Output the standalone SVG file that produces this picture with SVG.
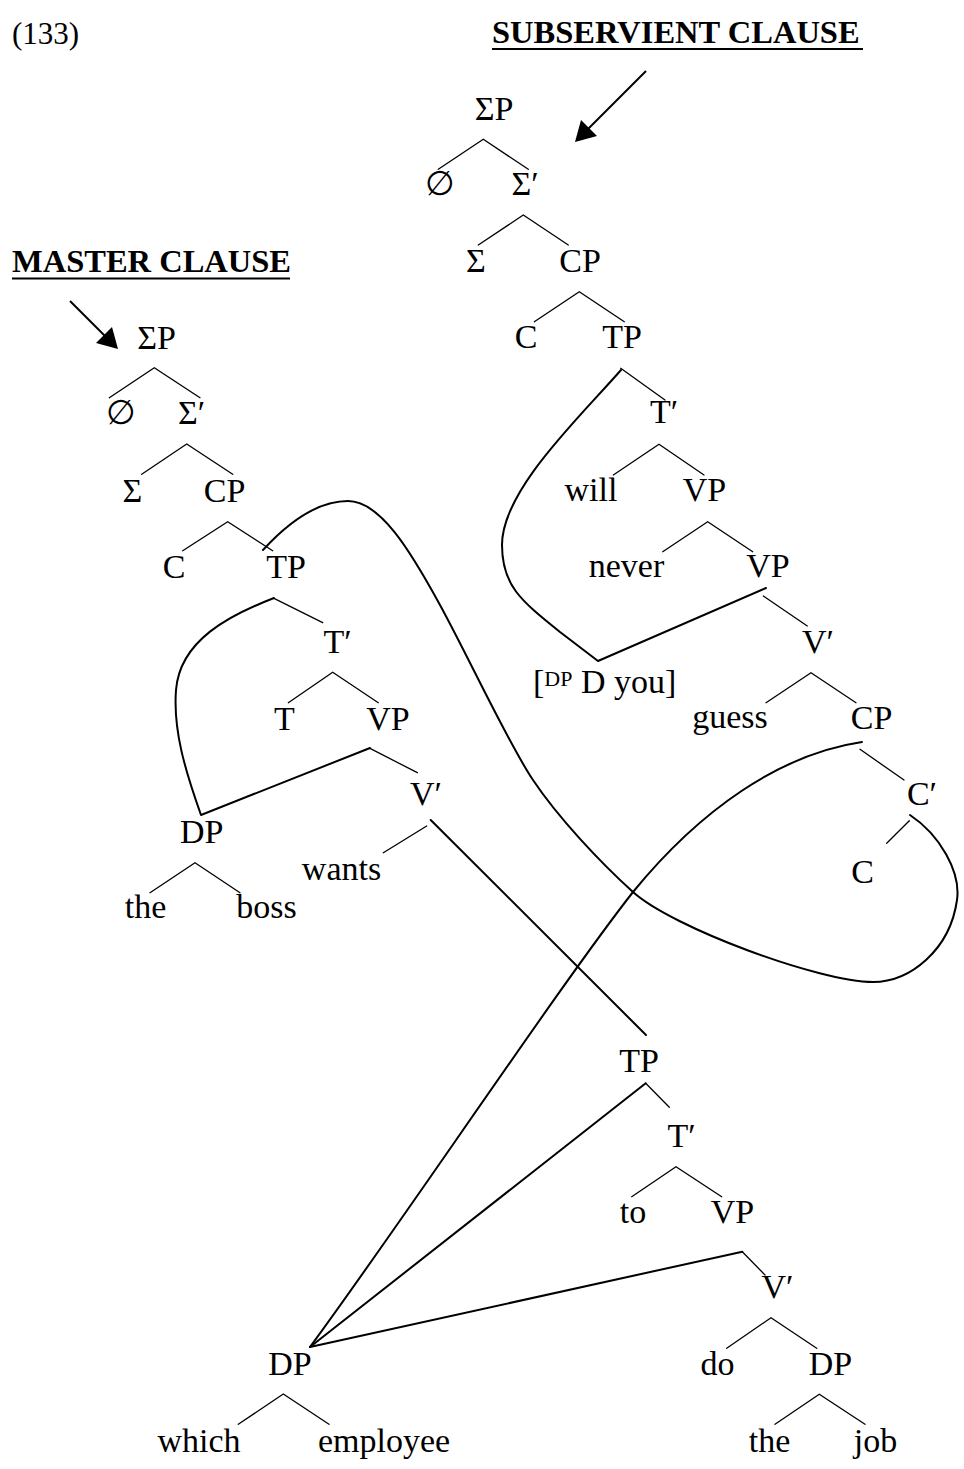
<svg xmlns="http://www.w3.org/2000/svg" width="964" height="1469" viewBox="0 0 964 1469">
<style>
text{font-family:"Liberation Serif","DejaVu Serif",serif;font-size:34px;fill:#000}
.n{text-anchor:middle}
.h{font-weight:bold;font-size:32.5px}
.t{fill:none;stroke:#000;stroke-width:1.3;stroke-linecap:round;stroke-linejoin:miter}
.k{fill:none;stroke:#000;stroke-width:2;stroke-linecap:round;stroke-linejoin:round}
.ar{stroke:#000;stroke-width:2}
</style>
<rect width="964" height="1469" fill="#fff"/>

<g id="labels">
<text id="ex" x="12" y="44" style="font-size:31px">(133)</text>
<text id="sub-title" class="h" x="492" y="43">SUBSERVIENT CLAUSE</text>
<line x1="492" y1="49" x2="863" y2="49" stroke="#000" stroke-width="2"/>
<text id="master-title" class="h" x="12" y="272">MASTER CLAUSE</text>
<line x1="12" y1="278.5" x2="290" y2="278.5" stroke="#000" stroke-width="2"/>
</g>

<g id="arrows">
<line class="ar" x1="646" y1="71" x2="588" y2="129"/>
<polygon points="575,142 581,120 597,136" fill="#000"/>
<line class="ar" x1="70" y1="301" x2="105" y2="336"/>
<polygon points="118,349 96,343 112,327" fill="#000"/>
</g>

<g id="connectors">
<!-- subservient tree -->
<polyline class="t" points="438.3,169.3 483.3,139.3 528.3,169.3"/>
<polyline class="t" points="478.3,245 523.3,215 568.3,245"/>
<polyline class="t" points="534.3,321.7 579.3,291.7 624.3,321.7"/>
<line class="t" x1="620.7" y1="368.3" x2="665" y2="400"/>
<polyline class="t" points="613.3,475 659,444.3 704,475"/>
<polyline class="t" points="662.7,551.7 707.7,521.7 752.7,551.7"/>
<line class="t" x1="763.3" y1="596" x2="807.3" y2="626"/>
<polyline class="t" points="766,702.7 811,672.7 856,702.7"/>
<line class="t" x1="860" y1="749.3" x2="904" y2="780"/>
<line class="t" x1="909.3" y1="820.7" x2="886.7" y2="843.3"/>
<!-- master tree -->
<polyline class="t" points="109.3,397.7 154.3,367.7 200,397.7"/>
<polyline class="t" points="141.7,474.3 186.7,444 232.7,474.3"/>
<polyline class="t" points="182.7,550.7 227.7,521.7 272.7,550.7"/>
<line class="t" x1="274" y1="598.3" x2="322.7" y2="622.7"/>
<polyline class="t" points="288.3,702.7 332.7,672.3 378.3,702.7"/>
<line class="t" x1="370" y1="748.3" x2="417.3" y2="772.7"/>
<line class="t" x1="426.7" y1="826" x2="383.3" y2="852.7"/>
<polyline class="t" points="150,892.7 195,862.7 240,892.7"/>
<!-- lower tree -->
<line class="t" x1="645.7" y1="1083.3" x2="669.3" y2="1107.3"/>
<polyline class="t" points="631.7,1196.7 676,1166.7 721.7,1196.7"/>
<line class="t" x1="742.3" y1="1251.7" x2="765" y2="1275"/>
<polyline class="t" points="726.7,1348.3 771,1317.7 816.7,1348.3"/>
<polyline class="t" points="775,1424.3 819.3,1394.3 865,1424.3"/>
<polyline class="t" points="238.3,1424.3 283.3,1394 329,1424.3"/>
<!-- thick movement / multidominance links -->
<path class="k" d="M621,370 C580,417 502,490 502,545 C502,585 520,600 560,632 L598,661 L766,588"/>
<path class="k" d="M274,598 C230,615 180,640 176,690 C173,730 185,770 201,815 L370,748"/>
<path class="k" d="M263,550 C285,526 315,501 348,501 C380,501 410,550 440,605 C470,660 508,743 533,780 C558,817.5 600,862 633,892 C673,928 820,982 873,982 C910,982 950,950 957,900 C961,872 940,835 910,815"/>
<path class="k" d="M862,742 C780,754 700,810 633,892 C560,985 400,1225 310,1347"/>
<line class="k" x1="430.7" y1="820" x2="646" y2="1035"/>
<line class="k" x1="645.7" y1="1083.3" x2="310" y2="1347"/>
<line class="k" x1="742.3" y1="1251.7" x2="310" y2="1347"/>
</g>

<g id="sub-SigmaP"><text class="n" x="494" y="120">ΣP</text></g>
<g id="sub-null"><text class="n" x="440" y="195">∅</text></g>
<g id="sub-SigmaBar"><text class="n" x="525" y="195">Σ′</text></g>
<g id="sub-Sigma"><text class="n" x="476" y="272">Σ</text></g>
<g id="sub-CP"><text class="n" x="580" y="272">CP</text></g>
<g id="sub-C"><text class="n" x="526" y="348">C</text></g>
<g id="sub-TP"><text class="n" x="622" y="348">TP</text></g>
<g id="sub-Tbar"><text class="n" x="664" y="423">T′</text></g>
<g id="sub-will"><text class="n" x="591" y="501">will</text></g>
<g id="sub-VP1"><text class="n" x="704.5" y="501">VP</text></g>
<g id="sub-never"><text class="n" x="626.5" y="577">never</text></g>
<g id="sub-VP2"><text class="n" x="768" y="577">VP</text></g>
<g id="sub-Vbar"><text class="n" x="818" y="653">V′</text></g>
<g id="sub-DPyou"><text x="533" y="693">[<tspan style="font-size:22px" dy="-7">DP</tspan><tspan dy="7"> D you]</tspan></text></g>
<g id="sub-guess"><text class="n" x="730" y="728">guess</text></g>
<g id="sub-CP2"><text class="n" x="871.5" y="729">CP</text></g>
<g id="sub-Cbar"><text class="n" x="922" y="805">C′</text></g>
<g id="sub-C2"><text class="n" x="862.5" y="883">C</text></g>

<g id="m-SigmaP"><text class="n" x="156.5" y="349">ΣP</text></g>
<g id="m-null"><text class="n" x="120.5" y="424">∅</text></g>
<g id="m-SigmaBar"><text class="n" x="191.5" y="424">Σ′</text></g>
<g id="m-Sigma"><text class="n" x="132.5" y="502">Σ</text></g>
<g id="m-CP"><text class="n" x="224.5" y="502">CP</text></g>
<g id="m-C"><text class="n" x="174" y="578">C</text></g>
<g id="m-TP"><text class="n" x="286" y="578">TP</text></g>
<g id="m-Tbar"><text class="n" x="337.5" y="653">T′</text></g>
<g id="m-T"><text class="n" x="284.5" y="730">T</text></g>
<g id="m-VP"><text class="n" x="388" y="730">VP</text></g>
<g id="m-Vbar"><text class="n" x="426" y="805">V′</text></g>
<g id="m-DP"><text class="n" x="201.7" y="843">DP</text></g>
<g id="m-wants"><text class="n" x="341.5" y="880">wants</text></g>
<g id="m-the"><text class="n" x="145.5" y="918">the</text></g>
<g id="m-boss"><text class="n" x="266.5" y="918">boss</text></g>

<g id="l-TP"><text class="n" x="639" y="1072">TP</text></g>
<g id="l-Tbar"><text class="n" x="681.5" y="1147">T′</text></g>
<g id="l-to"><text class="n" x="633" y="1223">to</text></g>
<g id="l-VP"><text class="n" x="732.5" y="1223">VP</text></g>
<g id="l-Vbar"><text class="n" x="777.5" y="1298">V′</text></g>
<g id="l-do"><text class="n" x="717.5" y="1375">do</text></g>
<g id="l-DP2"><text class="n" x="830.5" y="1375">DP</text></g>
<g id="l-the"><text class="n" x="769.5" y="1452">the</text></g>
<g id="l-job"><text class="n" x="875.5" y="1452">job</text></g>
<g id="l-DP"><text class="n" x="290" y="1375">DP</text></g>
<g id="l-which"><text class="n" x="199" y="1452">which</text></g>
<g id="l-employee"><text class="n" x="384" y="1452">employee</text></g>
</svg>
